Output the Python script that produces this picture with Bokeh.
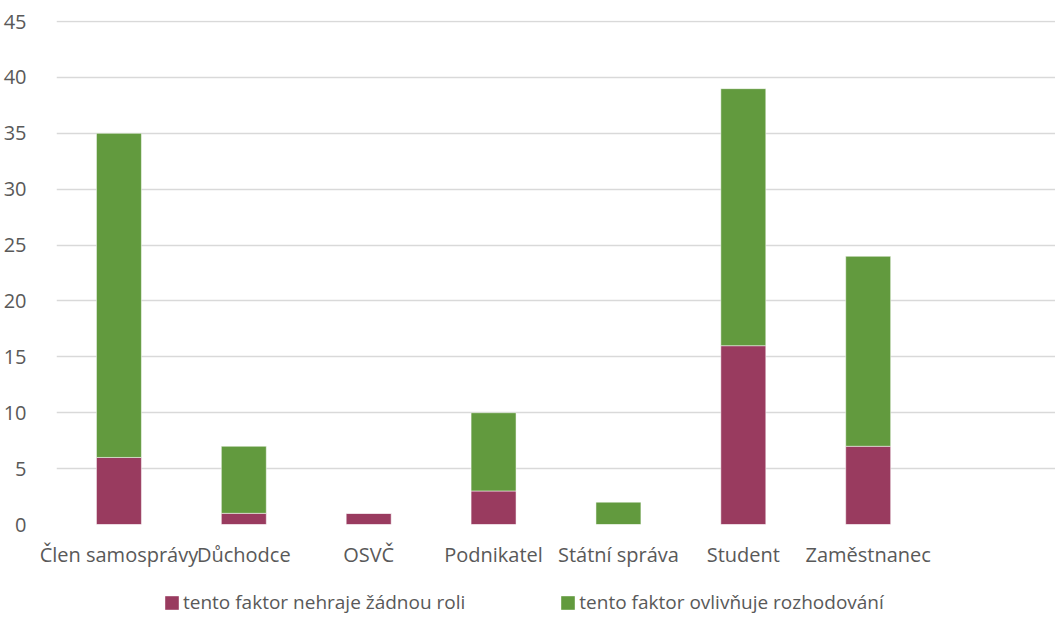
from bokeh.plotting import figure
from bokeh.layouts import column
from bokeh.models import FactorRange, Range1d, Legend, LegendItem, FixedTicker, ColumnDataSource
from bokeh.core.properties import value
from bokeh.embed import file_html
from bokeh.resources import INLINE

categories = ["Člen samosprávy", "Důchodce", "OSVČ", "Podnikatel",
              "Státní správa", "Student", "Zaměstnanec"]
nehraje = [6, 1, 1, 3, 0, 16, 7]
ovlivnuje = [29, 6, 0, 7, 2, 23, 17]
series_names = ["tento faktor nehraje žádnou roli",
                "tento faktor ovlivňuje rozhodování"]
colors = ["#993B5F", "#629A3E"]
y_ticks = [0, 5, 10, 15, 20, 25, 30, 35, 40, 45]

factors = categories + [" "]
src = ColumnDataSource(dict(cat=categories, a=nehraje, b=ovlivnuje))

FONT = "Open Sans"
TXT = "#595959"

p = figure(width=1055, height=578, x_range=FactorRange(factors=factors),
           y_range=Range1d(0, 45.1), output_backend="svg", toolbar_location=None,
           min_border_left=49, min_border_right=0, min_border_top=20,
           min_border_bottom=54)
p.outline_line_color = None

rs = p.vbar_stack(["a", "b"], x="cat", width=0.36, color=colors,
                  line_color="white", line_width=0.5, source=src)

p.yaxis.ticker = FixedTicker(ticks=y_ticks)
p.yaxis.axis_line_color = None
p.yaxis.major_tick_line_color = None
p.yaxis.minor_tick_line_color = None
p.yaxis.major_label_text_font = FONT
p.yaxis.major_label_text_font_size = "20px"
p.yaxis.major_label_text_color = TXT
p.yaxis.major_label_standoff = 24

p.xaxis.axis_line_color = None
p.xaxis.major_tick_line_color = None
p.xaxis.major_tick_out = 0
p.xaxis.major_label_text_font = FONT
p.xaxis.major_label_text_font_size = "20px"
p.xaxis.major_label_text_color = TXT
p.xaxis.major_label_standoff = 16

p.xgrid.grid_line_color = None
p.ygrid.grid_line_color = "#D9D9D9"
p.ygrid.grid_line_width = 1.3

# legend strip
p2 = figure(width=1055, height=37, x_range=Range1d(0, 1), y_range=Range1d(0, 1),
            output_backend="svg", toolbar_location=None,
            min_border_left=0, min_border_right=0, min_border_top=0, min_border_bottom=0)
p2.outline_line_color = None
p2.xaxis.visible = False
p2.yaxis.visible = False
p2.xgrid.grid_line_color = None
p2.ygrid.grid_line_color = None
lr = [p2.rect(x=[-10], y=[-10], width=1, height=1, fill_color=c, line_color=None)
      for c in colors]

legend = Legend(items=[LegendItem(label=series_names[i], renderers=[lr[i]]) for i in range(2)],
                orientation="horizontal", location=(107, 0),
                glyph_width=17, glyph_height=17, label_standoff=3, spacing=94,
                padding=0, margin=0, border_line_alpha=0, background_fill_alpha=0,
                label_text_font=FONT, label_text_font_size="19px", label_text_color=TXT)
p2.add_layout(legend, "center")

open("out.html", "w").write(file_html(column(p, p2, spacing=0), INLINE))
